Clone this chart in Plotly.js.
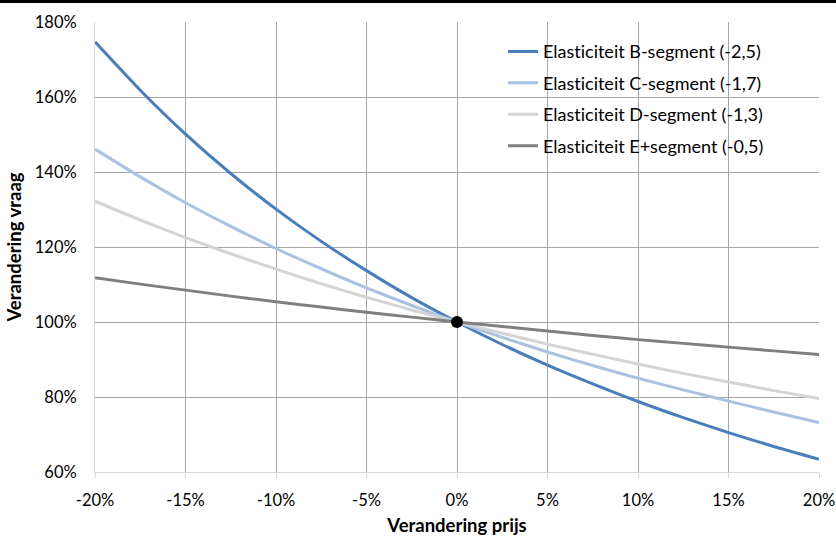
<!DOCTYPE html>
<html>
<head>
<meta charset="utf-8">
<script src="https://cdn.plot.ly/plotly-3.0.1.min.js"></script>
<style>
  html, body { margin: 0; padding: 0; background: #fff; }
  #topline { position: absolute; left: 0; top: 0; width: 836px; height: 3px; background: #000; z-index: 10; }
  #chart { width: 836px; height: 536px; }
  #chart text { font-variant-ligatures: none; font-feature-settings: "liga" 0, "clig" 0; }
</style>
</head>
<body>
<div id="topline"></div>
<div id="chart"></div>
<script>
// Price change (fraction)
const priceChange = [-0.20, -0.175, -0.15, -0.125, -0.10, -0.075, -0.05, -0.025, 0, 0.025, 0.05, 0.075, 0.10, 0.125, 0.15, 0.175, 0.20];

// Demand change (fraction of baseline)
const segB = [1.747, 1.618, 1.501, 1.396, 1.301, 1.215, 1.137, 1.065, 1.000, 0.940, 0.885, 0.835, 0.788, 0.745, 0.705, 0.668, 0.634];
const segC = [1.461, 1.387, 1.318, 1.255, 1.196, 1.142, 1.091, 1.044, 1.000, 0.959, 0.920, 0.884, 0.850, 0.819, 0.789, 0.760, 0.732];
const segD = [1.322, 1.272, 1.225, 1.182, 1.141, 1.102, 1.066, 1.032, 1.000, 0.970, 0.941, 0.914, 0.888, 0.863, 0.840, 0.817, 0.796];
const segE = [1.118, 1.101, 1.085, 1.069, 1.054, 1.040, 1.026, 1.013, 1.000, 0.988, 0.976, 0.964, 0.953, 0.943, 0.933, 0.923, 0.913];

const seriesNames = [
  'Elasticiteit B-segment (-2,5)',
  'Elasticiteit C-segment (-1,7)',
  'Elasticiteit D-segment (-1,3)',
  'Elasticiteit E+segment (-0,5)'
];
const seriesColors = ['#4a7ebb', '#a9c2e2', '#d4d4d4', '#7f7f7f'];

const pointX = [0];
const pointY = [1.0];

const xTicks = [-0.20, -0.15, -0.10, -0.05, 0, 0.05, 0.10, 0.15, 0.20];
const xTickText = ['-20%', '-15%', '-10%', '-5%', '0%', '5%', '10%', '15%', '20%'];
const yTicks = [0.6, 0.8, 1.0, 1.2, 1.4, 1.6, 1.8];
const yTickText = ['60%', '80%', '100%', '120%', '140%', '160%', '180%'];

const allSeries = [segB, segC, segD, segE];
const traces = allSeries.map((ys, i) => ({
  type: 'scatter',
  mode: 'lines',
  x: priceChange,
  y: ys,
  name: seriesNames[i],
  legendgroup: 'g' + i,
  line: { color: seriesColors[i], width: 3, shape: 'spline', smoothing: 0.6 },
  hoverinfo: 'skip'
}));
traces.push({
  type: 'scatter',
  mode: 'markers',
  x: pointX,
  y: pointY,
  showlegend: false,
  marker: { color: '#000', size: 12 },
  hoverinfo: 'skip'
});

const fam = 'Lato, "Liberation Sans", sans-serif';
const tickFont = { family: fam, size: 16.5, color: '#000' };
const titleFont = { family: fam, size: 18.5, color: '#000', weight: 'bold' };

const layout = {
  width: 836,
  height: 536,
  margin: { l: 95, r: 17, t: 22, b: 64 },
  paper_bgcolor: '#fff',
  plot_bgcolor: '#fff',
  font: tickFont,
  showlegend: true,
  legend: {
    x: 0.5635, y: 0.975, xanchor: 'left', yanchor: 'top',
    bgcolor: 'rgba(0,0,0,0)',
    font: { family: fam, size: 18, color: '#000' },
    tracegroupgap: 5,
    itemwidth: 30
  },
  shapes: [{
    type: 'rect', xref: 'paper', yref: 'paper', layer: 'between',
    x0: (472 - 95) / 724, x1: (800 - 95) / 724,
    y0: (472 - 162) / 450, y1: (472 - 36) / 450,
    fillcolor: '#fff', line: { width: 0 }
  }],
  xaxis: {
    range: [-0.20, 0.20],
    tickvals: xTicks, ticktext: xTickText,
    showgrid: true, gridcolor: '#a6a6a6', gridwidth: 1,
    zeroline: false,
    showline: true, linecolor: '#d9d9d9', linewidth: 1,
    ticks: 'outside', ticklen: 5, tickcolor: '#d9d9d9',
    ticklabelstandoff: 8,
    tickfont: tickFont,
    automargin: false,
    title: { text: 'Verandering prijs', font: titleFont, standoff: 14 }
  },
  yaxis: {
    range: [0.6, 1.8],
    tickvals: yTicks, ticktext: yTickText,
    showgrid: true, gridcolor: '#a6a6a6', gridwidth: 1,
    zeroline: false,
    showline: true, linecolor: '#d9d9d9', linewidth: 1,
    ticks: '',
    ticklabelstandoff: 14,
    tickfont: tickFont,
    automargin: false,
    title: { text: 'Verandering vraag', font: titleFont, standoff: 8 }
  }
};

Plotly.newPlot('chart', traces, layout, { staticPlot: true, displayModeBar: false });
</script>
</body>
</html>
